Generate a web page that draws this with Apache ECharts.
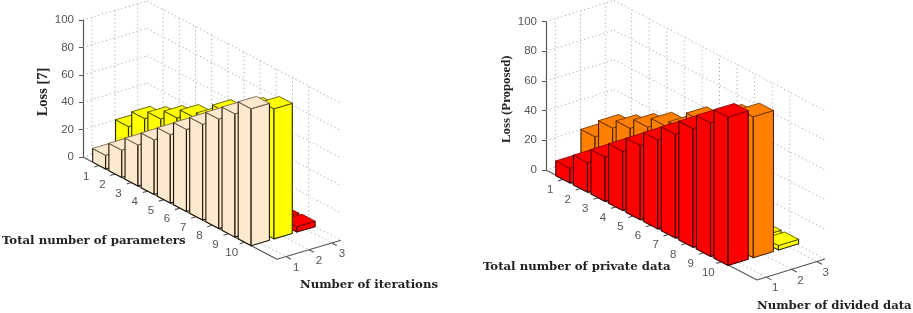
<!DOCTYPE html>
<html><head><meta charset="utf-8">
<style>html,body{margin:0;padding:0;background:#fff}#c{width:913px;height:313px}</style>
<script src="https://cdn.jsdelivr.net/npm/echarts@6/dist/echarts.min.js"></script>
</head><body><div id="c"></div>
<script>
const xTicks = [1,2,3,4,5,6,7,8,9,10];
const yTicks = [1,2,3];
const zTicks = [0,20,40,60,80,100];
const lossFront = [10,20,30,40,50,60,70,80,90,100];
const lossMiddle = [26,38,44,51,58,62,74,79,88,95];
const lossBackLeft = [1,1,2,2,2,3,3,3,3.5,4];
const lossBackRight = [1,1,2,2,2,2,3,3,3,3];

const panels = [
  {o:[83,157], xVec:[194,102.3], yVec:[64,-19], zScale:1.37, xMin:0, xMax:12, yMin:0.6, yMax:3.4,
   zName:'Loss [7]', nameGap:32, nameSize:14.5,
   xLab:[-13,11], yLab:[10,11],
   rows:[{y:3,vals:lossBackLeft,color:'#ff0000',edge:'#4a0000',topEdge:'#8a0000'},
         {y:2,vals:lossMiddle,color:'#ffff00',edge:'#2a2a00',topEdge:'#5a5a00'},
         {y:1,vals:lossFront,color:'#fde9cd',edge:'#1c140a',topEdge:'#7a6850'}]},
  {o:[546,170], xVec:[211,110], yVec:[68,-21], zScale:1.485, xMin:0, xMax:12, yMin:0.63, yMax:3.33,
   zName:'Loss (Proposed)', nameGap:33, nameSize:12.8,
   xLab:[-13.5,11], yLab:[9,11],
   rows:[{y:3,vals:lossBackRight,color:'#ffff00',edge:'#2a2a00',topEdge:'#5a5a00'},
         {y:2,vals:lossMiddle,color:'#ff8000',edge:'#4a2000',topEdge:'#7a3500'},
         {y:1,vals:lossFront,color:'#ff0000',edge:'#3a0000',topEdge:'#8a0000'}]}
];
const HALF = 0.4;

function project(p,x,y,z){
  const fx=(x-p.xMin)/(p.xMax-p.xMin), fy=(y-p.yMin)/(p.yMax-p.yMin);
  return [fx*p.xVec[0]+fy*p.yVec[0], z-(fx*p.xVec[1]+fy*p.yVec[1])/p.zScale];
}
function barRender(p,row){
  return function(params,api){
    const x=api.value(0), y=api.value(1), z=api.value(2);
    const P=(a,b,c)=>api.coord(project(p,a,b,c));
    const x0=x-HALF,x1=x+HALF,y0=y-HALF,y1=y+HALF;
    const st={fill:row.color,stroke:row.edge,lineWidth:1.1,lineJoin:'round'};
    const top={fill:row.color,stroke:row.topEdge,lineWidth:0.9,lineJoin:'round'};
    return {type:'group',children:[
      {type:'polygon',shape:{points:[P(x0,y0,0),P(x1,y0,0),P(x1,y0,z),P(x0,y0,z)]},style:st},
      {type:'polygon',shape:{points:[P(x1,y0,0),P(x1,y1,0),P(x1,y1,z),P(x1,y0,z)]},style:st},
      {type:'polygon',shape:{points:[P(x0,y0,z),P(x1,y0,z),P(x1,y1,z),P(x0,y1,z)]},style:top}
    ]};
  };
}
function guideRender(p){
  return function(params,api){
    const P=(a,b,c)=>api.coord(project(p,a,b,c));
    const dot={stroke:'#9a9a9a',lineWidth:1,lineDash:[1,3],fill:null};
    const seg=(a,b,s)=>({type:'line',shape:{x1:a[0],y1:a[1],x2:b[0],y2:b[1]},style:s});
    const k=[];
    zTicks.forEach(z=>{
      k.push(seg(P(p.xMin,p.yMin,z),P(p.xMin,p.yMax,z),dot));
      k.push(seg(P(p.xMin,p.yMax,z),P(p.xMax,p.yMax,z),dot));
    });
    yTicks.forEach(y=>{
      k.push(seg(P(p.xMin,y,0),P(p.xMin,y,100),dot));
      k.push(seg(P(p.xMin,y,0),P(p.xMax,y,0),dot));
    });
    xTicks.forEach(x=>{
      k.push(seg(P(x,p.yMax,0),P(x,p.yMax,100),dot));
      k.push(seg(P(x,p.yMin,0),P(x,p.yMax,0),dot));
    });
    return {type:'group',children:k};
  };
}
function axisRender(p){
  return function(params,api){
    const P=(a,b,c)=>api.coord(project(p,a,b,c));
    const ax={stroke:'#555',lineWidth:1.1,fill:null};
    const seg=(a,b)=>({type:'line',shape:{x1:a[0],y1:a[1],x2:b[0],y2:b[1]},style:ax});
    const font='11.5px "Liberation Sans", Arial, sans-serif';
    const txt=(t,a)=>({type:'text',style:{text:String(t),x:a[0],y:a[1],align:'center',verticalAlign:'middle',fill:'#555',font:font}});
    const k=[seg(P(p.xMin,p.yMin,0),P(p.xMax,p.yMin,0)),seg(P(p.xMax,p.yMin,0),P(p.xMax,p.yMax,0))];
    xTicks.forEach(x=>{
      const a=P(x,p.yMin,0);
      k.push(seg(a,P(x,p.yMin-0.22,0)));
      k.push(txt(x,[a[0]+p.xLab[0],a[1]+p.xLab[1]]));
    });
    yTicks.forEach(y=>{
      const a=P(p.xMax,y,0);
      k.push(seg(a,P(p.xMax+0.3,y,0)));
      k.push(txt(y,[a[0]+p.yLab[0],a[1]+p.yLab[1]]));
    });
    return {type:'group',children:k};
  };
}

const grid=[],xAxis=[],yAxis=[],series=[];
panels.forEach((p,i)=>{
  const W=p.xVec[0]+p.yVec[0];
  const vMin=-p.xVec[1]/p.zScale, vMax=100-p.yVec[1]/p.zScale;
  grid.push({left:p.o[0],width:W,top:p.o[1]-p.zScale*vMax,height:p.zScale*(vMax-vMin)});
  xAxis.push({type:'value',gridIndex:2*i,min:0,max:W,show:false});
  yAxis.push({type:'value',gridIndex:2*i,min:vMin,max:vMax,show:false});
  grid.push({left:p.o[0],width:1,top:p.o[1]-p.zScale*100,height:p.zScale*100});
  xAxis.push({type:'value',gridIndex:2*i+1,min:0,max:1,show:false});
  yAxis.push({type:'value',gridIndex:2*i+1,min:0,max:100,interval:20,splitLine:{show:false},
    axisLine:{show:true,lineStyle:{color:'#555',width:1.2}},
    axisTick:{show:true,length:4,lineStyle:{color:'#555'}},
    axisLabel:{color:'#555',fontSize:11.5,fontFamily:'"Liberation Sans", Arial, sans-serif',margin:9},
    name:p.zName,nameLocation:'middle',nameRotate:90,nameGap:p.nameGap,
    nameTextStyle:{color:'#222',fontFamily:'"Liberation Serif", serif',fontSize:p.nameSize,fontWeight:'bold',padding:[0,7,0,0]}});
  const base={type:'custom',coordinateSystem:'cartesian2d',xAxisIndex:2*i,yAxisIndex:2*i,clip:false,silent:true};
  series.push(Object.assign({},base,{name:'walls'+i,data:[[0]],renderItem:guideRender(p)}));
  series.push(Object.assign({},base,{name:'axes'+i,data:[[0]],renderItem:axisRender(p)}));
  p.rows.forEach(r=>{
    series.push(Object.assign({},base,{name:'y'+r.y,
      data:r.vals.map((v,j)=>[xTicks[j],r.y,v]),encode:{x:0,y:2},
      renderItem:barRender(p,r)}));
  });
});
const label=(text,x,y)=>({type:'text',x:x,y:y,style:{text:text,fill:'#222',font:'bold 11.7px "DejaVu Serif", serif',verticalAlign:'middle'}});
const chart=echarts.init(document.getElementById('c'),null,{renderer:'canvas',width:913,height:313});
chart.setOption({animation:false,backgroundColor:'#fff',grid,xAxis,yAxis,series,
  graphic:[label('Total number of parameters',2,241),label('Number of iterations',300,285),
           label('Total number of private data',483,267),label('Number of divided data',757,306)]});
</script></body></html>
